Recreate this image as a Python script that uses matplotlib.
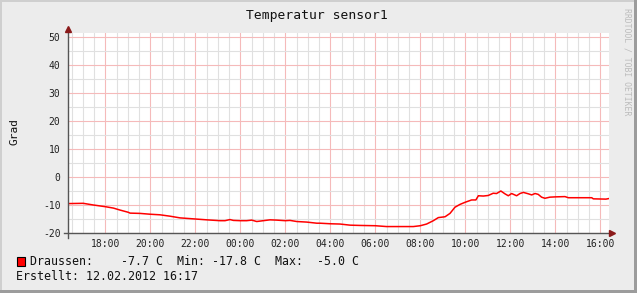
import matplotlib
matplotlib.use("Agg")
import matplotlib.pyplot as plt
from matplotlib.ticker import MultipleLocator
from matplotlib.patches import Rectangle

# ---- data (hours relative to 12.02.2012 00:00) ----
hours = [-7.68, -6.98, -6.53, -6.0, -5.64, -5.35, -4.98, -4.90, -4.46, -4.0,
         -3.57, -3.12, -2.68, -2.0, -1.49, -0.90, -0.68, -0.46, -0.31, 0.0,
         0.28, 0.51, 0.73, 1.02, 1.32, 1.62, 2.0, 2.21, 2.51, 2.95, 3.40,
         3.54, 4.0, 4.43, 4.88, 5.32, 6.0, 6.50, 7.10, 7.69, 8.0, 8.28, 8.58,
         8.80, 9.10, 9.32, 9.54, 9.76, 10.0, 10.28, 10.47, 10.58, 10.80, 11.02,
         11.24, 11.39, 11.58, 11.76, 11.91, 12.06, 12.28, 12.43, 12.58, 12.80,
         12.95, 13.10, 13.24, 13.39, 13.54, 13.76, 14.0, 14.43, 14.58, 15.10,
         15.62, 15.69, 16.25, 16.38]
temps = [-9.5, -9.4, -10.0, -10.6, -11.1, -11.8, -12.6, -12.9, -13.0, -13.3,
         -13.5, -14.0, -14.6, -15.0, -15.3, -15.6, -15.6, -15.2, -15.5, -15.6,
         -15.6, -15.4, -15.9, -15.6, -15.3, -15.4, -15.6, -15.5, -15.9, -16.1, -16.5,
         -16.5, -16.7, -16.8, -17.2, -17.3, -17.4, -17.7, -17.7, -17.7, -17.4, -16.8, -15.6,
         -14.5, -14.2, -13.0, -10.8, -9.8, -9.0, -8.2, -8.2, -6.7, -6.8, -6.6,
         -5.8, -5.9, -5.0, -6.0, -6.7, -5.9, -6.7, -5.9, -5.5, -6.0,
         -6.4, -5.9, -6.2, -7.2, -7.6, -7.2, -7.1, -7.0, -7.4, -7.4,
         -7.4, -7.8, -7.9, -7.7]
xtick_pos = [-6, -4, -2, 0, 2, 4, 6, 8, 10, 12, 14, 16]
xtick_labels = ["18:00", "20:00", "22:00", "00:00", "02:00", "04:00",
                "06:00", "08:00", "10:00", "12:00", "14:00", "16:00"]
ytick_pos = [-20, -10, 0, 10, 20, 30, 40, 50]
title = "Temperatur sensor1"
ylabel = "Grad"
legend_line = "Draussen:    -7.7 C  Min: -17.8 C  Max:  -5.0 C"
created_line = "Erstellt: 12.02.2012 16:17"
watermark = "RRDTOOL / TOBI OETIKER"

W, H = 637, 293
fig = plt.figure(figsize=(W / 100, H / 100), dpi=100)
fig.patch.set_facecolor("#ECECEC")

mono = "DejaVu Sans Mono"

# border shading
fig.add_artist(Rectangle((0, 0), 2 / W, 1, transform=fig.transFigure, color="#CFCFCF", lw=0))
fig.add_artist(Rectangle((0, 1 - 2 / H), 1, 2 / H, transform=fig.transFigure, color="#CFCFCF", lw=0))
fig.add_artist(Rectangle((1 - 3 / W, 0), 3 / W, 1, transform=fig.transFigure, color="#9C9C9C", lw=0))
fig.add_artist(Rectangle((0, 0), 1, 3 / H, transform=fig.transFigure, color="#9C9C9C", lw=0))

left_px, right_px, top_px, bot_px = 67.5, 609.0, 33.0, 233.0
ax = fig.add_axes([left_px / W, (H - bot_px) / H, (right_px - left_px) / W, (bot_px - top_px) / H])
ax.set_facecolor("white")

x0 = -7.68
x1 = x0 + (right_px - left_px) / 22.5
ax.set_xlim(x0, x1)
ax.set_ylim(-20, 50 + 4 / 2.8)

ax.xaxis.set_major_locator(MultipleLocator(2))
ax.xaxis.set_minor_locator(MultipleLocator(0.5))
ax.yaxis.set_minor_locator(MultipleLocator(5))
ax.set_xticks(xtick_pos)
ax.set_xticklabels(xtick_labels, fontfamily=mono, fontsize=7, color="#222222")
ax.set_yticks(ytick_pos)
ax.set_yticklabels([str(v) for v in ytick_pos], fontfamily=mono, fontsize=7, color="#222222")
ax.tick_params(which="both", length=0)
ax.tick_params(axis="x", pad=4)
ax.tick_params(axis="y", pad=5)

ax.grid(which="minor", color="#E0E0E0", lw=0.8)
ax.grid(which="major", color="#F5BABA", lw=0.8)
ax.set_axisbelow(True)
for s in ax.spines.values():
    s.set_visible(False)

ax.plot(hours, temps, color="#FF0000", lw=1.1, zorder=3)

# axes lines with arrows
fig.add_artist(plt.Line2D([left_px / W, left_px / W], [(H - 238) / H, (H - 28) / H],
                          transform=fig.transFigure, color="#555555", lw=1))
fig.add_artist(plt.Line2D([64 / W, 611 / W], [(H - bot_px) / H, (H - bot_px) / H],
                          transform=fig.transFigure, color="#555555", lw=1))
fig.add_artist(plt.Line2D([left_px / W], [(H - 29) / H], transform=fig.transFigure,
                          marker="^", color="#8B1A1A", markersize=5, lw=0))
fig.add_artist(plt.Line2D([612 / W], [(H - bot_px) / H], transform=fig.transFigure,
                          marker=">", color="#8B1A1A", markersize=5, lw=0))

# texts
fig.text(317 / W, 1 - 16 / H, title, ha="center", va="center", fontfamily=mono,
         fontsize=9.4, color="#111111")
fig.text(15 / W, 1 - 131.5 / H, ylabel, ha="center", va="center", rotation=90,
         fontfamily=mono, fontsize=8, color="#111111")
fig.text(627 / W, 1 - 62 / H, watermark, ha="center", va="center", rotation=270,
         fontfamily=mono, fontsize=5.9, color="#BCBCBC")

fig.add_artist(Rectangle((16.5 / W, 1 - 265.5 / H), 8.5 / W, 8.5 / H, transform=fig.transFigure,
                         facecolor="#FF0000", edgecolor="#000000", lw=0.8))
fig.text(30.5 / W, 1 - 261.5 / H, legend_line, ha="left", va="center", fontfamily=mono,
         fontsize=8.4, color="#111111")
fig.text(16 / W, 1 - 276.5 / H, created_line, ha="left", va="center", fontfamily=mono,
         fontsize=8.4, color="#111111")

fig.savefig("out.png", dpi=100, facecolor=fig.get_facecolor())
